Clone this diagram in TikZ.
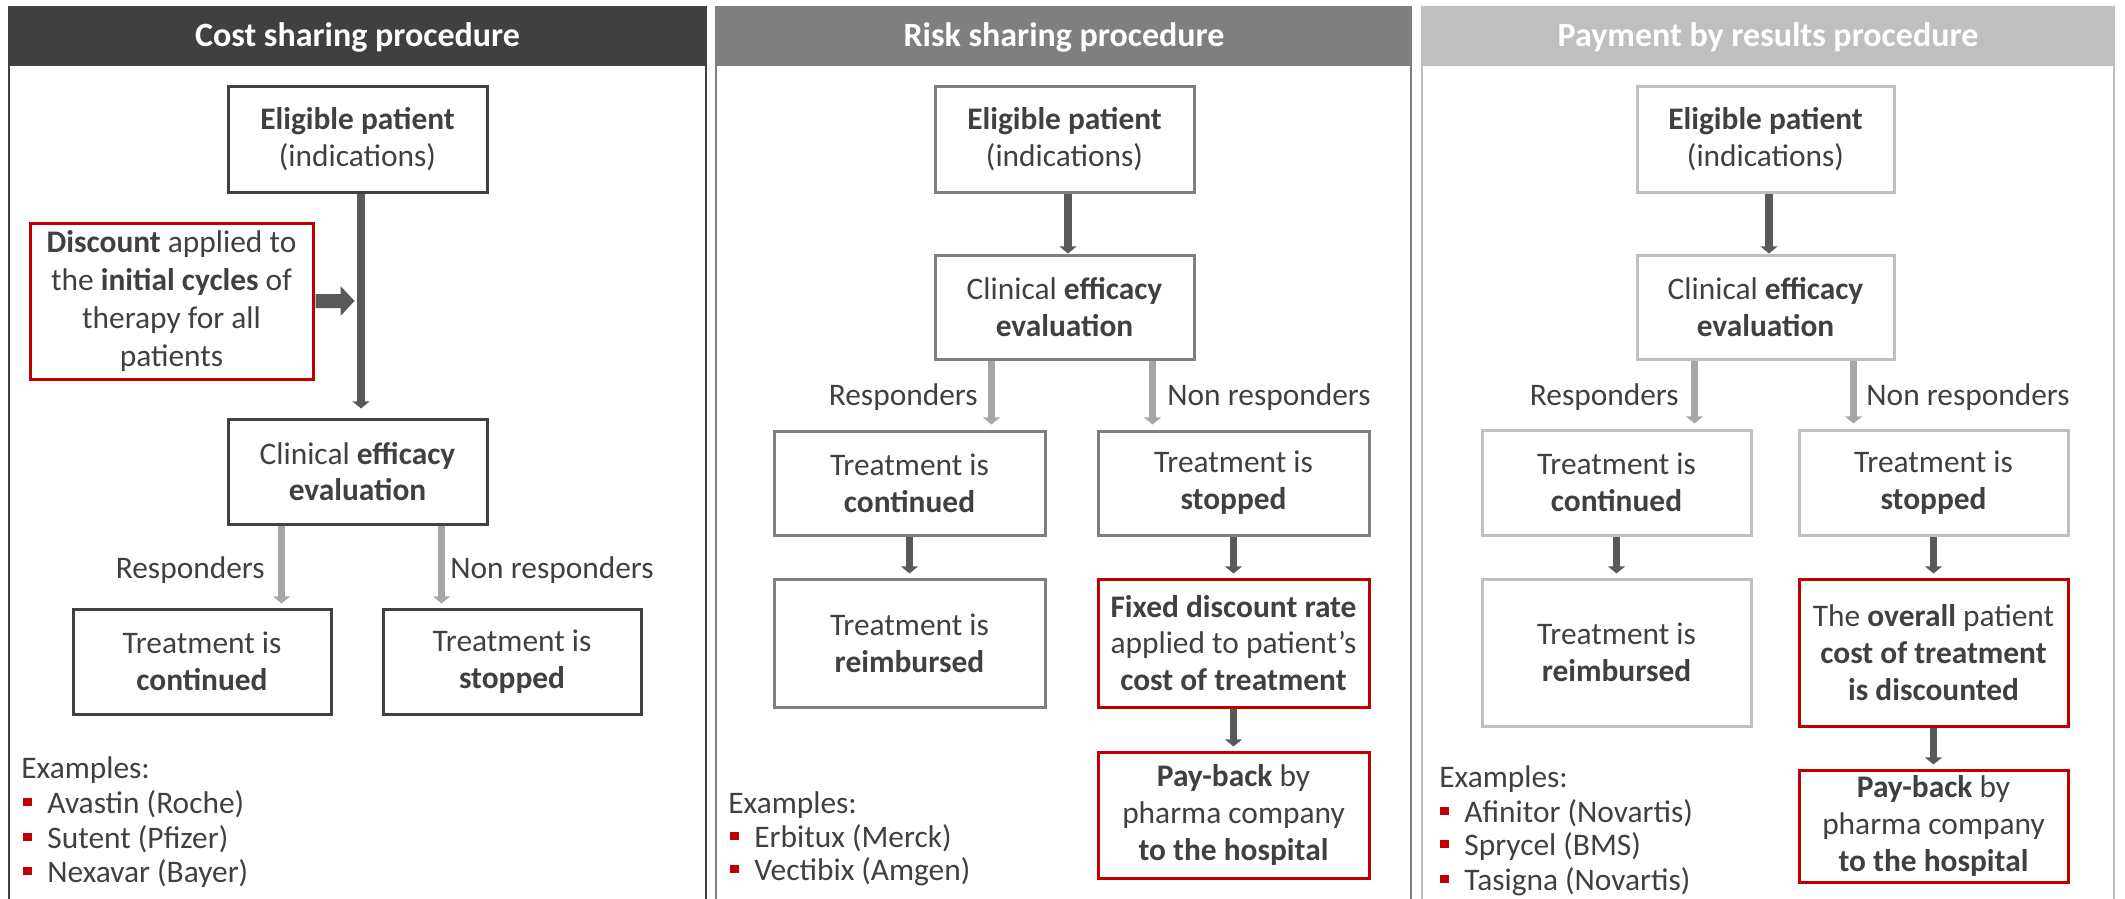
\documentclass[tikz,border=0pt]{standalone}
\usepackage{fontspec}
\setmainfont{Carlito}
\usetikzlibrary{arrows.meta}
\definecolor{ink}{HTML}{404040}
\definecolor{hdA}{HTML}{404040}
\definecolor{hdB}{HTML}{7F7F7F}
\definecolor{hdC}{HTML}{BFBFBF}
\definecolor{arrowdark}{HTML}{595959}
\definecolor{arrowlight}{HTML}{A6A6A6}
\definecolor{accent}{HTML}{C00000}
\newcommand\bul{\textcolor{accent}{\rule[3.3pt]{4.2pt}{4.2pt}}\hspace{7.8pt}}
\tikzset{
  txt/.style={text=ink, font=\fontsize{15.7}{18.4}\selectfont, align=center, inner sep=0pt},
  box/.style={txt, draw, line width=1.5pt, fill=white},
  boxA/.style={box, draw=hdA},
  boxB/.style={box, draw=hdB},
  boxC/.style={box, draw=hdC},
  redbox/.style={box, draw=accent},
  darr/.style={draw=arrowdark, line width=3.8pt, -{Triangle[length=3.6pt,width=8.5pt]}},
  larr/.style={darr, draw=arrowlight},
  titletext/.style={text=white, font=\bfseries\fontsize{17}{20}\selectfont, inner sep=0pt},
  ex/.style={text=ink, font=\fontsize{15.7}{18}\selectfont, inner sep=0pt, anchor=base west},
  lblL/.style={txt, anchor=base east},
  lblR/.style={txt, anchor=base west},
  frame/.style={line width=1pt},
}
\begin{document}
\begin{tikzpicture}[x=0.5pt, y=-0.5pt]
\useasboundingbox (0,0) rectangle (2125,899);

% ---------- panel frames and headers ----------
\draw[frame, hdA] (9,899) -- (9,7) -- (706,7) -- (706,899);
\fill[hdA] (9,7) rectangle (706,66);
\node[titletext] (t1) at (357.5,37) {Cost sharing procedure};

\draw[frame, hdB] (716,899) -- (716,7) -- (1411,7) -- (1411,899);
\fill[hdB] (716,7) rectangle (1411,66);
\node[titletext] (t2) at (1064,37) {Risk sharing procedure};

\draw[frame, hdC] (1422,899) -- (1422,7) -- (2114,7) -- (2114,899);
\fill[hdC] (1422,7) rectangle (2114,66);
\node[titletext] (t3) at (1768,37) {Payment by results procedure};

% ---------- cost sharing ----------
\node[boxA, minimum width=129.5pt, minimum height=52.5pt] (elig1) at (357.5,139.5)
  {\textbf{Eligible patient}\\(indications)};
\node[redbox, minimum width=141.5pt, minimum height=78pt, font=\fontsize{15.7}{19}\selectfont] (disc1) at (171.5,301)
  {\textbf{Discount} applied to\\the \textbf{initial cycles} of\\therapy for all\\patients};
\node[boxA, minimum width=129.5pt, minimum height=52.5pt] (clin1) at (357.5,471.5)
  {Clinical \textbf{efficacy}\\\textbf{evaluation}};
\node[boxA, minimum width=129pt, minimum height=52.5pt] (cont1) at (202,661.5)
  {Treatment is\\\textbf{continued}};
\node[boxA, minimum width=129pt, minimum height=52.5pt] (stop1) at (512,661.5)
  {Treatment is\\\textbf{stopped}};

\draw[darr, shorten >=4.5pt] ([xshift=1.75pt]elig1.south) -- ([xshift=1.75pt]clin1.north);
\fill[arrowdark, shift={(disc1.east)}]
  (1,-7) -- (26,-7) -- (26,-15) -- (40,0) -- (26,15) -- (26,7) -- (1,7) -- cycle;
\draw[larr, shorten >=2pt] ([xshift=-38pt]clin1.south) -- ([xshift=-38pt]clin1.south |- cont1.north);
\draw[larr, shorten >=2pt] ([xshift=42pt]clin1.south) -- ([xshift=42pt]clin1.south |- stop1.north);
\node[lblL] (r1) at (265,578) {Responders};
\node[lblR] (n1) at (450,578) {Non responders};

\node[ex] (ex1) at (21,778) {Examples:};
\node[ex] (ex1a) at (23,813) {\bul Avastin (Roche)};
\node[ex] (ex1b) at (23,848) {\bul Sutent (Pfizer)};
\node[ex] (ex1c) at (23,882) {\bul Nexavar (Bayer)};

% ---------- risk sharing ----------
\node[boxB, minimum width=129.5pt, minimum height=52.5pt] (elig2) at (1064.5,139.5)
  {\textbf{Eligible patient}\\(indications)};
\node[boxB, minimum width=129.5pt, minimum height=52pt] (clin2) at (1064.5,307)
  {Clinical \textbf{efficacy}\\\textbf{evaluation}};
\node[boxB, minimum width=135.5pt, minimum height=52pt] (cont2) at (909.5,483)
  {Treatment is\\\textbf{continued}};
\node[boxB, minimum width=135.5pt, minimum height=52pt] (stop2) at (1233.5,483)
  {Treatment is\\\textbf{stopped}};
\node[boxB, minimum width=135.5pt, minimum height=64pt] (reimb2) at (909.5,643)
  {Treatment is\\\textbf{reimbursed}};
\node[redbox, minimum width=135.5pt, minimum height=64pt] (fixed2) at (1233.5,643)
  {\textbf{Fixed discount rate}\\applied to patient’s\\\textbf{cost of treatment}};
\node[redbox, minimum width=135.5pt, minimum height=63pt] (pay2) at (1233.5,815)
  {\textbf{Pay-back} by\\pharma company\\\textbf{to the hospital}};

\draw[darr] ([xshift=1.75pt]elig2.south) -- ([xshift=1.75pt]clin2.north);
\draw[larr, shorten >=2.5pt] ([xshift=-36.5pt]clin2.south) -- ([xshift=-36.5pt]clin2.south |- cont2.north);
\draw[larr, shorten >=2.5pt] ([xshift=44pt]clin2.south) -- ([xshift=44pt]clin2.south |- stop2.north);
\draw[darr, shorten >=2pt] (cont2.south) -- (reimb2.north);
\draw[darr, shorten >=2pt] (stop2.south) -- (fixed2.north);
\draw[darr, shorten >=2pt] (fixed2.south) -- (pay2.north);
\node[lblL] (r2) at (978,405) {Responders};
\node[lblR] (n2) at (1167,405) {Non responders};

\node[ex] (ex2) at (728,813) {Examples:};
\node[ex] (ex2a) at (730,847) {\bul Erbitux (Merck)};
\node[ex] (ex2b) at (730,880) {\bul Vectibix (Amgen)};

% ---------- payment by results ----------
\node[boxC, minimum width=128.5pt, minimum height=52.5pt] (elig3) at (1765.5,139.5)
  {\textbf{Eligible patient}\\(indications)};
\node[boxC, minimum width=128.5pt, minimum height=52pt] (clin3) at (1765.5,307)
  {Clinical \textbf{efficacy}\\\textbf{evaluation}};
\node[boxC, minimum width=134.5pt, minimum height=52.5pt] (cont3) at (1616.5,482.5)
  {Treatment is\\\textbf{continued}};
\node[boxC, minimum width=134.5pt, minimum height=52.5pt] (stop3) at (1933.5,482.5)
  {Treatment is\\\textbf{stopped}};
\node[boxC, minimum width=134.5pt, minimum height=73.5pt] (reimb3) at (1616.5,652.5)
  {Treatment is\\\textbf{reimbursed}};
\node[redbox, minimum width=134.5pt, minimum height=73.5pt] (over3) at (1933.5,652.5)
  {The \textbf{overall} patient\\\textbf{cost of treatment}\\\textbf{is discounted}};
\node[redbox, minimum width=134.5pt, minimum height=56pt] (pay3) at (1933.5,826)
  {\textbf{Pay-back} by\\pharma company\\\textbf{to the hospital}};

\draw[darr] ([xshift=1.75pt]elig3.south) -- ([xshift=1.75pt]clin3.north);
\draw[larr, shorten >=2.5pt] ([xshift=-35.5pt]clin3.south) -- ([xshift=-35.5pt]clin3.south |- cont3.north);
\draw[larr, shorten >=2.5pt] ([xshift=44pt]clin3.south) -- ([xshift=44pt]clin3.south |- stop3.north);
\draw[darr, shorten >=2pt] (cont3.south) -- (reimb3.north);
\draw[darr, shorten >=2pt] (stop3.south) -- (over3.north);
\draw[darr, shorten >=2pt] (over3.south) -- (pay3.north);
\node[lblL] (r3) at (1679,405) {Responders};
\node[lblR] (n3) at (1866,405) {Non responders};

\node[ex] (ex3) at (1439,787) {Examples:};
\node[ex] (ex3a) at (1440,822) {\bul Afinitor (Novartis)};
\node[ex] (ex3b) at (1440,855) {\bul Sprycel (BMS)};
\node[ex] (ex3c) at (1440,890) {\bul Tasigna (Novartis)};
\end{tikzpicture}
\end{document}
